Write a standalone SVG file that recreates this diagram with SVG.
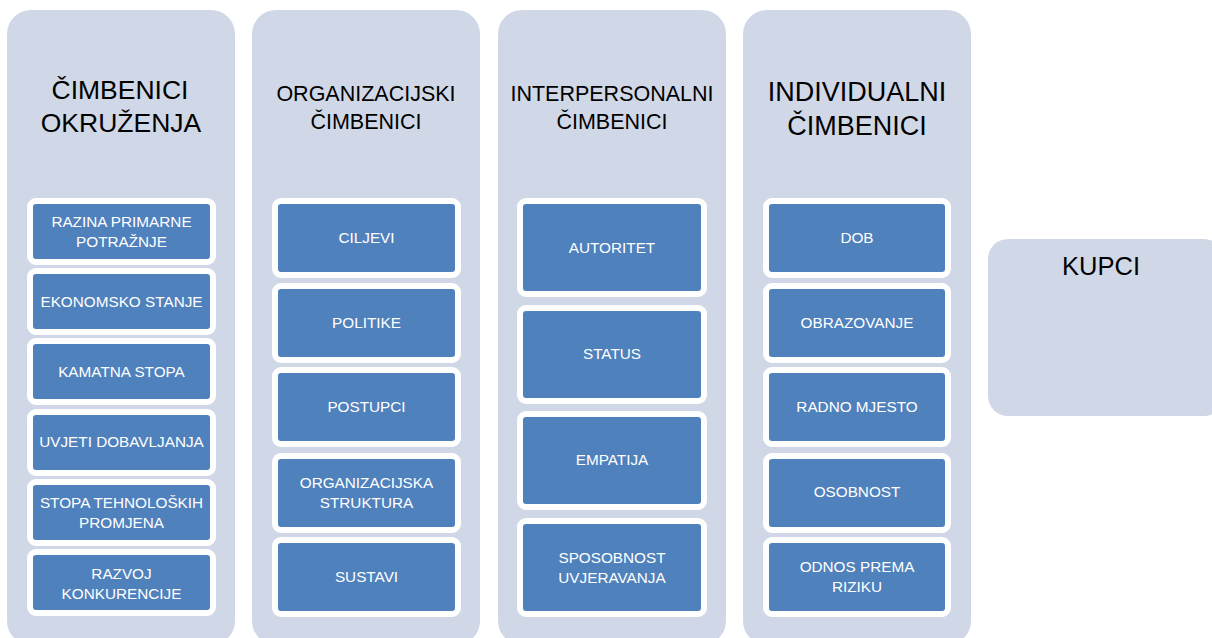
<svg xmlns="http://www.w3.org/2000/svg" width="1212" height="638" viewBox="0 0 1212 638">
<style>
.col{fill:#D0D8E8;}
.box{fill:#4F81BD;stroke:#FFFFFF;stroke-width:6;}
.t{font-family:"Liberation Sans",Arial,sans-serif;fill:#000000;text-anchor:middle;}
.l{font-family:"Liberation Sans",Arial,sans-serif;fill:#FFFFFF;text-anchor:middle;font-size:15.3px;}
.l1{font-size:15.3px;}
</style>
<rect width="1212" height="638" fill="#FFFFFF"/>
<g id="connectors"/>
<g id="col-okruzenja">
<rect class="col" x="7" y="10" width="228" height="635" rx="24"/>
<text class="t" font-size="26.5" x="120" y="99">ČIMBENICI</text>
<text class="t" font-size="26.5" x="121" y="132">OKRUŽENJA</text>
</g>
<g id="col-organizacijski">
<rect class="col" x="252" y="10" width="228" height="635" rx="24"/>
<text class="t" font-size="21.5" x="366" y="101">ORGANIZACIJSKI</text>
<text class="t" font-size="21.5" x="366" y="129">ČIMBENICI</text>
</g>
<g id="col-interpersonalni">
<rect class="col" x="498" y="10" width="228" height="635" rx="24"/>
<text class="t" font-size="21.5" x="612" y="101">INTERPERSONALNI</text>
<text class="t" font-size="21.5" x="612" y="129">ČIMBENICI</text>
</g>
<g id="col-individualni">
<rect class="col" x="743" y="10" width="228" height="635" rx="24"/>
<text class="t" font-size="27" x="857" y="101">INDIVIDUALNI</text>
<text class="t" font-size="27" x="857" y="135">ČIMBENICI</text>
</g>
<g id="kupci">
<rect class="col" x="988" y="239" width="236" height="177" rx="20"/>
<text class="t" font-size="25.5" x="1101" y="275">KUPCI</text>
</g>
<g id="n-razina">
<rect class="box" x="30" y="201" width="183" height="61" rx="6"/>
<text class="l l1" x="121.5" y="227">RAZINA PRIMARNE</text>
<text class="l l1" x="121.5" y="247">POTRAŽNJE</text>
</g>
<g id="n-ekonomsko">
<rect class="box" x="30" y="271" width="183" height="61" rx="6"/>
<text class="l l1" x="121.5" y="306.5">EKONOMSKO STANJE</text>
</g>
<g id="n-kamatna">
<rect class="box" x="30" y="341" width="183" height="61" rx="6"/>
<text class="l l1" x="121.5" y="376.5">KAMATNA STOPA</text>
</g>
<g id="n-uvjeti">
<rect class="box" x="30" y="412" width="183" height="61" rx="6"/>
<text class="l l1" x="121.5" y="447">UVJETI DOBAVLJANJA</text>
</g>
<g id="n-stopa">
<rect class="box" x="30" y="482" width="183" height="61" rx="6"/>
<text class="l l1" x="121.5" y="508">STOPA TEHNOLOŠKIH</text>
<text class="l l1" x="121.5" y="528">PROMJENA</text>
</g>
<g id="n-razvoj">
<rect class="box" x="30" y="552" width="183" height="61" rx="6"/>
<text class="l l1" x="121.5" y="578.5">RAZVOJ</text>
<text class="l l1" x="121.5" y="598.5">KONKURENCIJE</text>
</g>
<g id="n-ciljevi">
<rect class="box" x="275" y="201" width="183" height="74" rx="6"/>
<text class="l" x="366.5" y="243">CILJEVI</text>
</g>
<g id="n-politike">
<rect class="box" x="275" y="286" width="183" height="74" rx="6"/>
<text class="l" x="366.5" y="327.5">POLITIKE</text>
</g>
<g id="n-postupci">
<rect class="box" x="275" y="370" width="183" height="74" rx="6"/>
<text class="l" x="366.5" y="412">POSTUPCI</text>
</g>
<g id="n-struktura">
<rect class="box" x="275" y="456" width="183" height="74" rx="6"/>
<text class="l" x="366.5" y="487.5">ORGANIZACIJSKA</text>
<text class="l" x="366.5" y="507.5">STRUKTURA</text>
</g>
<g id="n-sustavi">
<rect class="box" x="275" y="540" width="183" height="74" rx="6"/>
<text class="l" x="366.5" y="581.5">SUSTAVI</text>
</g>
<g id="n-autoritet">
<rect class="box" x="520" y="201" width="184" height="93" rx="6"/>
<text class="l" x="612" y="253">AUTORITET</text>
</g>
<g id="n-status">
<rect class="box" x="520" y="308" width="184" height="93" rx="6"/>
<text class="l" x="612" y="359">STATUS</text>
</g>
<g id="n-empatija">
<rect class="box" x="520" y="414" width="184" height="93" rx="6"/>
<text class="l" x="612" y="465">EMPATIJA</text>
</g>
<g id="n-sposobnost">
<rect class="box" x="520" y="521" width="184" height="93" rx="6"/>
<text class="l" x="612" y="562.5">SPOSOBNOST</text>
<text class="l" x="612" y="582.5">UVJERAVANJA</text>
</g>
<g id="n-dob">
<rect class="box" x="766" y="201" width="182" height="74" rx="6"/>
<text class="l" x="857" y="243">DOB</text>
</g>
<g id="n-obrazovanje">
<rect class="box" x="766" y="286" width="182" height="74" rx="6"/>
<text class="l" x="857" y="327.5">OBRAZOVANJE</text>
</g>
<g id="n-radno">
<rect class="box" x="766" y="370" width="182" height="74" rx="6"/>
<text class="l" x="857" y="412">RADNO MJESTO</text>
</g>
<g id="n-osobnost">
<rect class="box" x="766" y="456" width="182" height="74" rx="6"/>
<text class="l" x="857" y="497">OSOBNOST</text>
</g>
<g id="n-odnos">
<rect class="box" x="766" y="540" width="182" height="74" rx="6"/>
<text class="l" x="857" y="572">ODNOS PREMA</text>
<text class="l" x="857" y="592">RIZIKU</text>
</g>
</svg>
